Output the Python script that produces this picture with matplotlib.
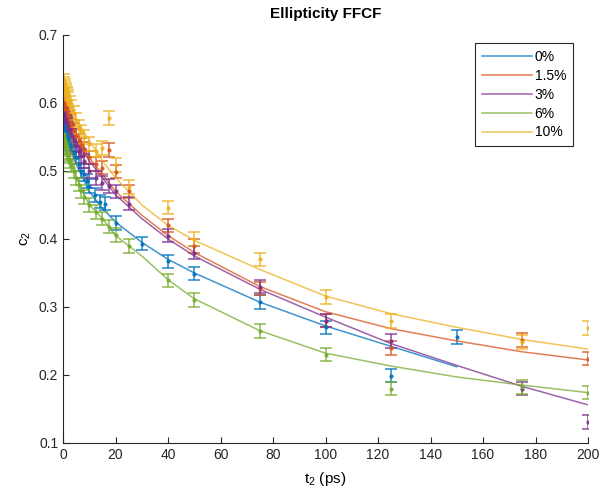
import matplotlib.pyplot as plt

plt.rcParams['font.family'] = ['Liberation Sans', 'DejaVu Sans']
plt.rcParams['mathtext.default'] = 'regular'

labels = ['0%', '1.5%', '3%', '6%', '10%']
colors = ['#0072BD', '#D95319', '#7E2F8E', '#77AC30', '#EDB120']

# measured points
t_blue = [0.2, 0.4, 0.6, 0.8, 1, 1.2, 1.4, 1.6, 1.8, 2, 2.5, 3, 4, 5, 6, 7, 8, 9, 10, 12, 14, 16,
          20, 30, 40, 50, 75, 100, 125, 150]
c_blue = [0.568, 0.565, 0.562, 0.56, 0.557, 0.555, 0.552, 0.55, 0.548, 0.545, 0.54, 0.535, 0.527, 0.52,
          0.51, 0.50, 0.495, 0.485, 0.478, 0.465, 0.455, 0.452, 0.423, 0.393, 0.367, 0.349, 0.307, 0.27,
          0.199, 0.256]

t_common = [0.2, 0.4, 0.6, 0.8, 1, 1.2, 1.4, 1.6, 1.8, 2, 2.5, 3, 4, 5, 6, 7, 8, 10, 12.5, 15, 17.5,
            20, 25, 40, 50, 75, 100, 125, 175, 200]
c_red = [0.60, 0.597, 0.595, 0.593, 0.59, 0.588, 0.585, 0.583, 0.58, 0.578, 0.572, 0.567, 0.56, 0.552,
         0.545, 0.538, 0.532, 0.52, 0.51, 0.505, 0.531, 0.499, 0.47, 0.42, 0.39, 0.327, 0.28, 0.24,
         0.251, 0.224]
c_purple = [0.585, 0.582, 0.58, 0.577, 0.575, 0.572, 0.57, 0.568, 0.565, 0.562, 0.557, 0.552, 0.545,
            0.538, 0.53, 0.522, 0.515, 0.50, 0.49, 0.482, 0.478, 0.47, 0.452, 0.405, 0.38, 0.33, 0.28,
            0.25, 0.18, 0.131]
c_green = [0.555, 0.55, 0.546, 0.542, 0.538, 0.535, 0.532, 0.528, 0.525, 0.522, 0.515, 0.508, 0.50,
           0.49, 0.48, 0.47, 0.462, 0.45, 0.44, 0.43, 0.418, 0.406, 0.39, 0.339, 0.31, 0.265, 0.23,
           0.18, 0.182, 0.174]
c_yellow = [0.632, 0.628, 0.625, 0.622, 0.62, 0.617, 0.614, 0.612, 0.609, 0.606, 0.60, 0.595, 0.585,
            0.575, 0.565, 0.558, 0.55, 0.54, 0.53, 0.534, 0.578, 0.509, 0.476, 0.446, 0.40, 0.37,
            0.315, 0.279, 0.248, 0.269]
err = 0.01

# fitted curves
fit_t = [0, 1, 2, 5, 10, 15, 20, 30, 40, 50, 75, 100, 125, 150, 175, 200]
fit_blue = [0.565, 0.552, 0.54, 0.51, 0.47, 0.445, 0.425, 0.395, 0.37, 0.35, 0.307, 0.272, 0.242, 0.212]
fit_red = [0.598, 0.59, 0.58, 0.555, 0.52, 0.495, 0.47, 0.435, 0.405, 0.38, 0.33, 0.293, 0.268, 0.25,
           0.234, 0.222]
fit_purple = [0.582, 0.574, 0.565, 0.545, 0.515, 0.49, 0.465, 0.43, 0.40, 0.375, 0.326, 0.285, 0.246,
              0.214, 0.183, 0.156]
fit_green = [0.552, 0.536, 0.52, 0.49, 0.45, 0.43, 0.405, 0.375, 0.34, 0.312, 0.265, 0.232, 0.213,
             0.197, 0.185, 0.174]
fit_yellow = [0.62, 0.61, 0.60, 0.575, 0.545, 0.515, 0.49, 0.45, 0.42, 0.398, 0.355, 0.316, 0.29,
              0.27, 0.252, 0.238]

points = [(t_blue, c_blue), (t_common, c_red), (t_common, c_purple), (t_common, c_green),
          (t_common, c_yellow)]
fits = [fit_blue, fit_red, fit_purple, fit_green, fit_yellow]

fig = plt.figure(figsize=(6, 4.96), dpi=100)
ax = fig.add_axes([0.105, 0.107, 0.875, 0.8226])

for (t, c), f, col, lab in zip(points, fits, colors, labels):
    ax.plot(fit_t[:len(f)], f, color=col, lw=1.1, alpha=0.75, label=lab)
    ax.errorbar(t, c, yerr=err, fmt='o', ms=2, color=col, ecolor=col,
                elinewidth=1.1, capsize=4.5, capthick=1.1, alpha=0.85)

ax.set_xlim(0, 200)
ax.set_ylim(0.1, 0.7)
ax.set_xticks(range(0, 201, 20))
ax.set_yticks([0.1, 0.2, 0.3, 0.4, 0.5, 0.6, 0.7])
ax.spines['top'].set_visible(False)
ax.spines['right'].set_visible(False)
for s in ['left', 'bottom']:
    ax.spines[s].set_color('#262626')
    ax.spines[s].set_linewidth(0.8)
ax.tick_params(direction='in', length=4, labelsize=10, colors='#262626')

ax.set_title('Ellipticity FFCF', fontsize=11, fontweight='bold', pad=12)
ax.set_xlabel('t$_2$ (ps)', fontsize=11, labelpad=6)
ax.set_ylabel('c$_2$', fontsize=11)

leg = ax.legend(loc='upper right', bbox_to_anchor=(0.985, 0.997), fontsize=10,
                fancybox=False, edgecolor='#262626', framealpha=1,
                handlelength=3.6, borderpad=0.5, labelspacing=0.35, handletextpad=0.2)
leg.get_frame().set_linewidth(0.8)

fig.savefig('out.png', dpi=100)
